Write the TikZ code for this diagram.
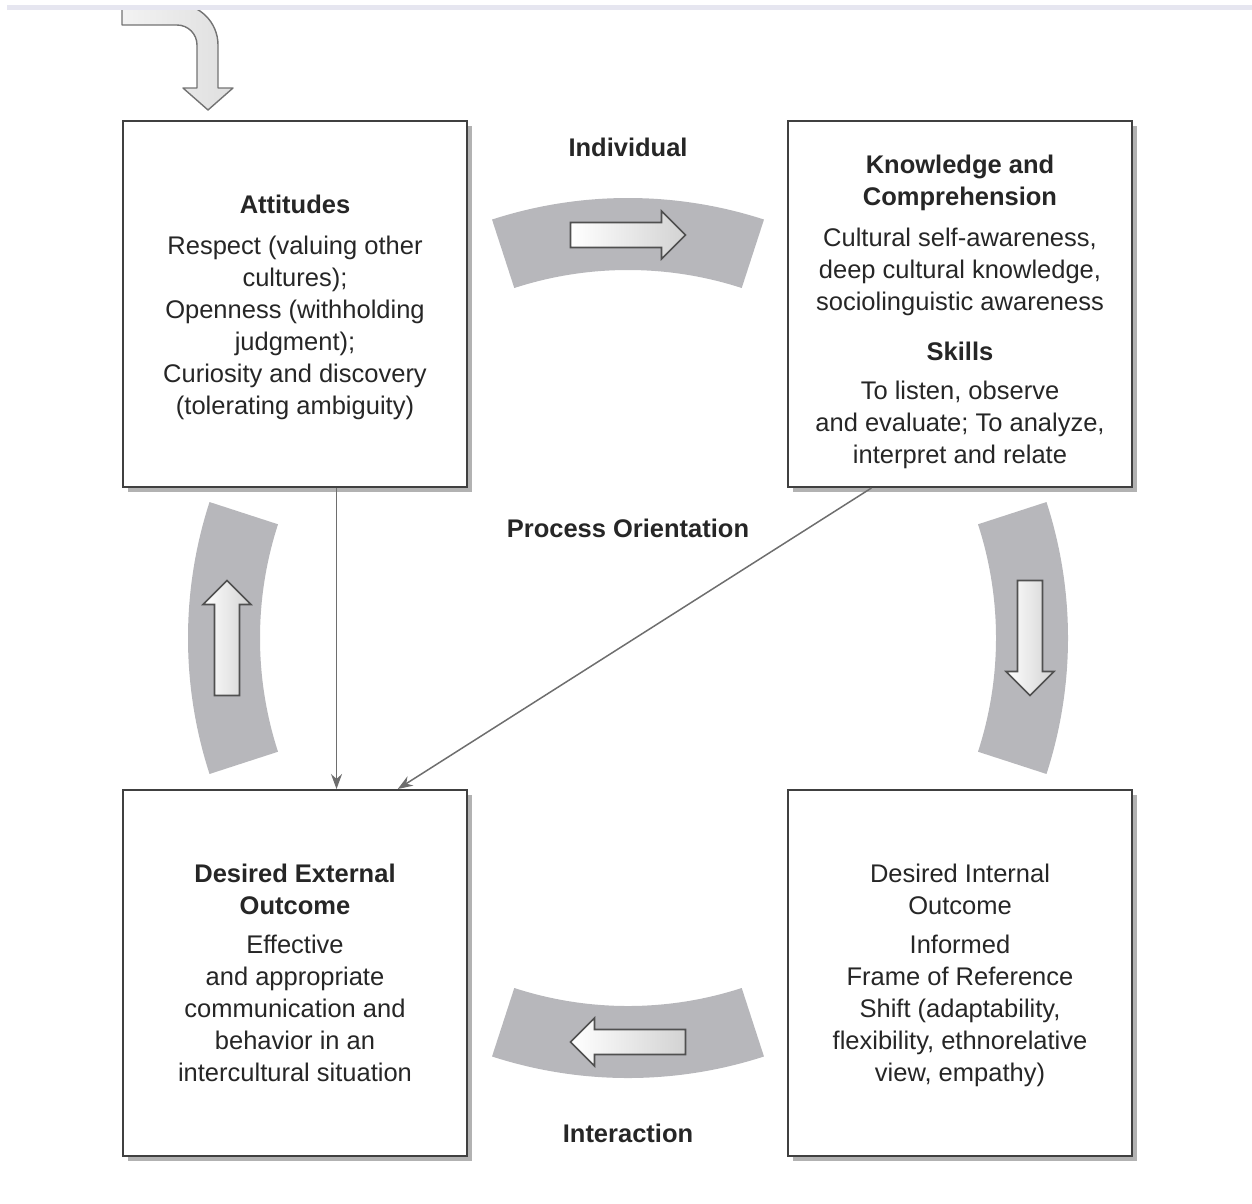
\documentclass[tikz,border=0pt]{standalone}
\usepackage{fontspec}
\setmainfont{Liberation Sans}
\usetikzlibrary{shadows,arrows.meta,calc}
\definecolor{band}{HTML}{B7B7BB}
\definecolor{boxline}{HTML}{404040}
\definecolor{txt}{HTML}{262626}
\definecolor{conn}{HTML}{6E6E6E}
\definecolor{topline}{HTML}{E6E6F0}
\definecolor{arrline}{HTML}{505050}
\begin{document}
\begin{tikzpicture}[x=1pt,y=-1pt,
  box/.style={draw=boxline,line width=2pt,fill=white,minimum width=344pt,minimum height=366pt,
    inner sep=0pt,align=center,text=txt,font=\fontsize{25.5}{32}\selectfont,
    drop shadow={shadow xshift=5pt,shadow yshift=-5pt,opacity=0.3,fill=black}},
  lbl/.style={text=txt,font=\fontsize{25.5}{32}\selectfont\bfseries},
  warrow/.style={draw=arrline,line width=1.6pt,line join=miter,left color=white,right color=gray!35},
  carrow/.style={draw=arrline!80,line width=1.4pt,line join=round,left color=gray!10,right color=gray!25},
  conn/.style={draw=conn,line width=1.5pt,-{Stealth[length=15pt,width=11pt]}}
]
\useasboundingbox (0,0) rectangle (1252,1203);

% curved entry arrow
\draw[carrow] (122,4) -- (177,4) arc[start angle=270,end angle=360,radius=41] -- (218,88) -- (233,88)
  -- (208,110) -- (183,88) -- (197,88) -- (197,45) arc[start angle=0,end angle=-90,radius=20] -- (122,25) -- cycle;
\fill[white] (0,-2) rectangle (1252,10);
\fill[topline] (7,5) rectangle (1252,10);

% bands
\fill[band] (628,638) ++(252:440) arc[start angle=252,end angle=288,radius=440]
  -- ($(628,638)+(288:368)$) arc[start angle=288,end angle=252,radius=368] -- cycle;
\fill[band] (628,638) ++(72:440) arc[start angle=72,end angle=108,radius=440]
  -- ($(628,638)+(108:368)$) arc[start angle=108,end angle=72,radius=368] -- cycle;
\fill[band] (628,638) ++(162:440) arc[start angle=162,end angle=198,radius=440]
  -- ($(628,638)+(198:368)$) arc[start angle=198,end angle=162,radius=368] -- cycle;
\fill[band] (628,638) ++(-18:440) arc[start angle=-18,end angle=18,radius=440]
  -- ($(628,638)+(18:368)$) arc[start angle=18,end angle=-18,radius=368] -- cycle;

% white arrows in bands
\begin{scope}[shift={(628,235)}]
\draw[warrow] (-57.5,-12.5) -- (33.5,-12.5) -- (33.5,-24) -- (57.5,0) -- (33.5,24) -- (33.5,12.5) -- (-57.5,12.5) -- cycle;
\end{scope}
\begin{scope}[shift={(628,1042)},rotate=180]
\draw[warrow] (-57.5,-12.5) -- (33.5,-12.5) -- (33.5,-24) -- (57.5,0) -- (33.5,24) -- (33.5,12.5) -- (-57.5,12.5) -- cycle;
\end{scope}
\begin{scope}[shift={(227,638)},rotate=90]
\draw[warrow] (-57.5,-12.5) -- (33.5,-12.5) -- (33.5,-24) -- (57.5,0) -- (33.5,24) -- (33.5,12.5) -- (-57.5,12.5) -- cycle;
\end{scope}
\begin{scope}[shift={(1030,638)},rotate=-90]
\draw[warrow] (-57.5,-12.5) -- (33.5,-12.5) -- (33.5,-24) -- (57.5,0) -- (33.5,24) -- (33.5,12.5) -- (-57.5,12.5) -- cycle;
\end{scope}

% boxes
\node[box] (TL) at (295,304) {\rule{0pt}{25pt}\textbf{Attitudes}\\[9pt] Respect (valuing other\\ cultures);\\ Openness (withholding\\ judgment);\\ Curiosity and discovery\\ (tolerating ambiguity)};
\node[box] (TR) at (960,304) {\rule{0pt}{35pt}\textbf{Knowledge and}\\ \textbf{Comprehension}\\[9pt] Cultural self-awareness,\\ deep cultural knowledge,\\ sociolinguistic awareness\\[18pt] \textbf{Skills}\\[7pt] To listen, observe\\ and evaluate; To analyze,\\ interpret and relate};
\node[box] (BL) at (295,973) {\textbf{Desired External}\\ \textbf{Outcome}\\[7pt] Effective\\ and appropriate\\ communication and\\ behavior in an\\ intercultural situation};
\node[box] (BR) at (960,973) {\rule{0pt}{24pt}Desired Internal\\ Outcome\\[7pt] Informed\\ Frame of Reference\\ Shift (adaptability,\\ flexibility, ethnorelative\\ view, empathy)};

% labels
\node[lbl] (ind) at (628,147) {Individual};
\node[lbl] (proc) at (628,528) {Process Orientation};
\node[lbl] (inter) at (628,1133) {Interaction};

% connectors
\draw[conn] ($(TL.south west)!0.62!(TL.south east)$) -- ($(BL.north west)!0.62!(BL.north east)$);
\draw[conn] ($(TR.south west)!0.244!(TR.south east)$) -- ($(BL.north west)!0.797!(BL.north east)$);
\end{tikzpicture}
\end{document}
